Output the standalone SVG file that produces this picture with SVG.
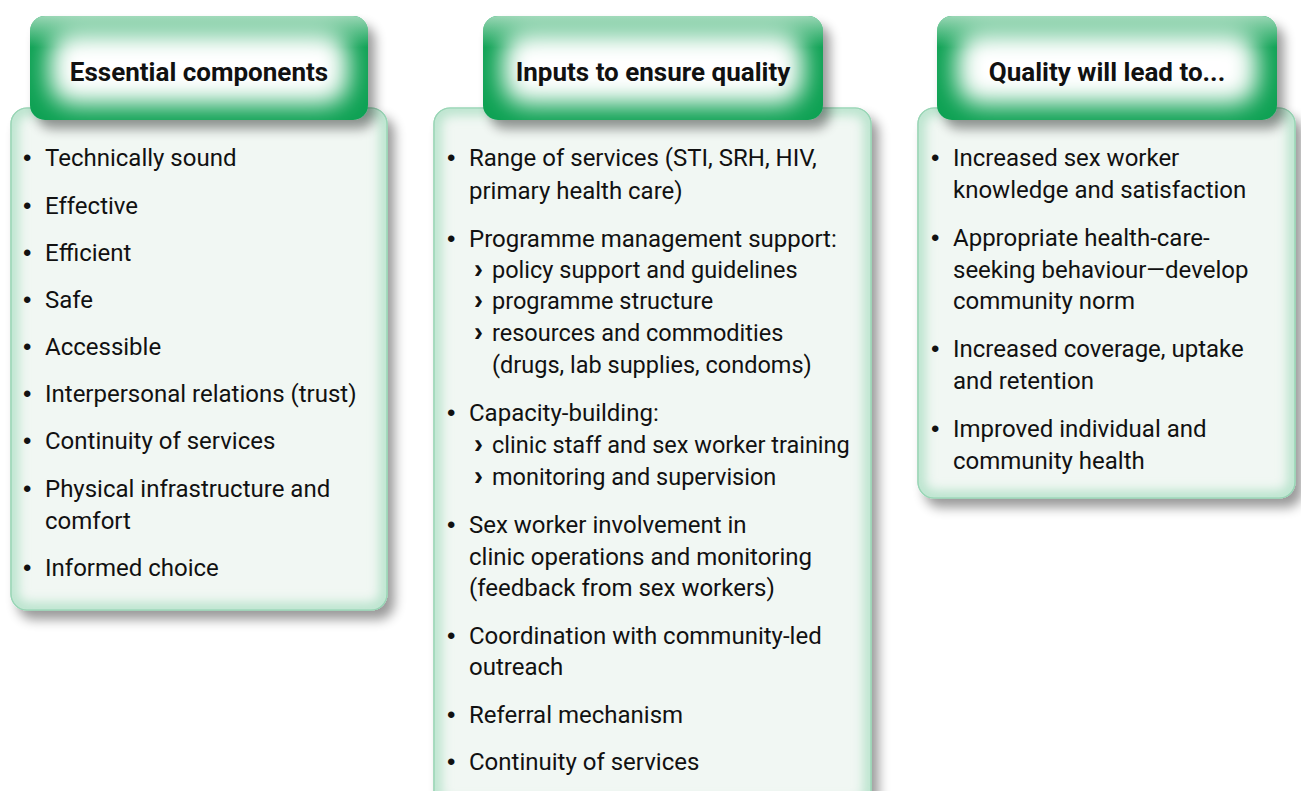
<svg xmlns="http://www.w3.org/2000/svg" width="1301" height="791" viewBox="0 0 1301 791">
<style>
.t{font-family:Roboto,"Liberation Sans",sans-serif;font-size:24px;fill:#111;}
.b{font-family:"Liberation Sans",sans-serif;font-size:24px;}
.c{font-family:"Liberation Sans",sans-serif;font-size:27px;font-weight:bold;}
.s{font-size:23.5px;}
.h{font-family:Roboto,"Liberation Sans",sans-serif;font-size:26px;font-weight:bold;fill:#111;text-anchor:middle;}
.body{fill:#f1f7f3;stroke:#98d5b5;stroke-width:1.2;}
.glowB{fill:none;stroke:#b5e2ca;stroke-width:14;filter:url(#blur6);}
.head{fill:#0aa152;}
.glowH{fill:#ffffff;filter:url(#blur10);}
</style>
<defs>
<filter id="shadow" x="-10%" y="-10%" width="130%" height="130%">
<feGaussianBlur in="SourceAlpha" stdDeviation="6"/>
<feOffset dx="7" dy="9"/>
<feComponentTransfer><feFuncA type="linear" slope="0.4"/></feComponentTransfer>
<feMerge><feMergeNode/><feMergeNode in="SourceGraphic"/></feMerge>
</filter>
<filter id="blur6" x="-20%" y="-20%" width="140%" height="140%"><feGaussianBlur stdDeviation="6"/></filter>
<filter id="blur10" x="-30%" y="-30%" width="160%" height="160%"><feGaussianBlur stdDeviation="12"/></filter>
<linearGradient id="topMint" x1="0" y1="0" x2="0" y2="1">
<stop offset="0" stop-color="#a8dcbf" stop-opacity="0.9"/>
<stop offset="0.3" stop-color="#a8dcbf" stop-opacity="0"/>
</linearGradient>
<clipPath id="cb1"><rect x="11" y="108" width="376" height="502" rx="16"/></clipPath>
<clipPath id="cb2"><rect x="434" y="108" width="437" height="700" rx="16"/></clipPath>
<clipPath id="cb3"><rect x="918" y="108" width="377" height="390" rx="16"/></clipPath>
<clipPath id="ch1"><rect x="30" y="16" width="338" height="104" rx="15"/></clipPath>
<clipPath id="ch2"><rect x="483" y="16" width="340" height="104" rx="15"/></clipPath>
<clipPath id="ch3"><rect x="937" y="16" width="340" height="104" rx="15"/></clipPath>
</defs>

<g id="col1">
<rect x="11" y="108" width="376" height="502" rx="16" class="body" filter="url(#shadow)"/>
<g clip-path="url(#cb1)"><rect x="11" y="108" width="376" height="502" rx="16" class="glowB"/></g>
<rect x="11" y="108" width="376" height="502" rx="16" fill="none" stroke="#98d5b5" stroke-width="1.2"/>
<rect x="30" y="16" width="338" height="104" rx="15" class="head" filter="url(#shadow)"/>
<g clip-path="url(#ch1)"><rect x="30" y="16" width="338" height="104" fill="url(#topMint)"/><rect x="50" y="32" width="298" height="72" rx="24" class="glowH"/></g>
<text x="199" y="81" class="h">Essential components</text>
<text class="t">
<tspan x="23" y="166" class="b">•</tspan><tspan x="45" y="166">Technically sound</tspan>
<tspan x="23" y="214" class="b">•</tspan><tspan x="45" y="214">Effective</tspan>
<tspan x="23" y="261" class="b">•</tspan><tspan x="45" y="261">Efficient</tspan>
<tspan x="23" y="308" class="b">•</tspan><tspan x="45" y="308">Safe</tspan>
<tspan x="23" y="355" class="b">•</tspan><tspan x="45" y="355">Accessible</tspan>
<tspan x="23" y="402" class="b">•</tspan><tspan x="45" y="402">Interpersonal relations (trust)</tspan>
<tspan x="23" y="449" class="b">•</tspan><tspan x="45" y="449">Continuity of services</tspan>
<tspan x="23" y="497" class="b">•</tspan><tspan x="45" y="497">Physical infrastructure and</tspan>
<tspan x="45" y="529">comfort</tspan>
<tspan x="23" y="576" class="b">•</tspan><tspan x="45" y="576">Informed choice</tspan>
</text>
</g>

<g id="col2">
<rect x="434" y="108" width="437" height="700" rx="16" class="body" filter="url(#shadow)"/>
<g clip-path="url(#cb2)"><rect x="434" y="108" width="437" height="700" rx="16" class="glowB"/></g>
<rect x="434" y="108" width="437" height="700" rx="16" fill="none" stroke="#98d5b5" stroke-width="1.2"/>
<rect x="483" y="16" width="340" height="104" rx="15" class="head" filter="url(#shadow)"/>
<g clip-path="url(#ch2)"><rect x="483" y="16" width="340" height="104" fill="url(#topMint)"/><rect x="503" y="32" width="300" height="72" rx="24" class="glowH"/></g>
<text x="653" y="81" class="h">Inputs to ensure quality</text>
<text class="t">
<tspan x="447" y="166" class="b">•</tspan><tspan x="469" y="166">Range of services (STI, SRH, HIV,</tspan>
<tspan x="469" y="199">primary health care)</tspan>
<tspan x="447" y="247" class="b">•</tspan><tspan x="469" y="247">Programme management support:</tspan>
<tspan x="474" y="278" class="c">›</tspan><tspan x="492" y="278" class="s">policy support and guidelines</tspan>
<tspan x="474" y="309" class="c">›</tspan><tspan x="492" y="309" class="s">programme structure</tspan>
<tspan x="474" y="341" class="c">›</tspan><tspan x="492" y="341" class="s">resources and commodities</tspan>
<tspan x="492" y="373" class="s">(drugs, lab supplies, condoms)</tspan>
<tspan x="447" y="421" class="b">•</tspan><tspan x="469" y="421">Capacity-building:</tspan>
<tspan x="474" y="453" class="c">›</tspan><tspan x="492" y="453" class="s">clinic staff and sex worker training</tspan>
<tspan x="474" y="485" class="c">›</tspan><tspan x="492" y="485" class="s">monitoring and supervision</tspan>
<tspan x="447" y="533" class="b">•</tspan><tspan x="469" y="533">Sex worker involvement in</tspan>
<tspan x="469" y="565">clinic operations and monitoring</tspan>
<tspan x="469" y="596">(feedback from sex workers)</tspan>
<tspan x="447" y="644" class="b">•</tspan><tspan x="469" y="644">Coordination with community-led</tspan>
<tspan x="469" y="675">outreach</tspan>
<tspan x="447" y="723" class="b">•</tspan><tspan x="469" y="723">Referral mechanism</tspan>
<tspan x="447" y="770" class="b">•</tspan><tspan x="469" y="770">Continuity of services</tspan>
</text>
</g>

<g id="col3">
<rect x="918" y="108" width="377" height="390" rx="16" class="body" filter="url(#shadow)"/>
<g clip-path="url(#cb3)"><rect x="918" y="108" width="377" height="390" rx="16" class="glowB"/></g>
<rect x="918" y="108" width="377" height="390" rx="16" fill="none" stroke="#98d5b5" stroke-width="1.2"/>
<rect x="937" y="16" width="340" height="104" rx="15" class="head" filter="url(#shadow)"/>
<g clip-path="url(#ch3)"><rect x="937" y="16" width="340" height="104" fill="url(#topMint)"/><rect x="957" y="32" width="300" height="72" rx="24" class="glowH"/></g>
<text x="1107" y="81" class="h">Quality will lead to...</text>
<text class="t">
<tspan x="931" y="166" class="b">•</tspan><tspan x="953" y="166">Increased sex worker</tspan>
<tspan x="953" y="198">knowledge and satisfaction</tspan>
<tspan x="931" y="246" class="b">•</tspan><tspan x="953" y="246">Appropriate health-care-</tspan>
<tspan x="953" y="278">seeking behaviour—develop</tspan>
<tspan x="953" y="309">community norm</tspan>
<tspan x="931" y="357" class="b">•</tspan><tspan x="953" y="357">Increased coverage, uptake</tspan>
<tspan x="953" y="389">and retention</tspan>
<tspan x="931" y="437" class="b">•</tspan><tspan x="953" y="437">Improved individual and</tspan>
<tspan x="953" y="469">community health</tspan>
</text>
</g>
<g id="connectors"/>
</svg>
